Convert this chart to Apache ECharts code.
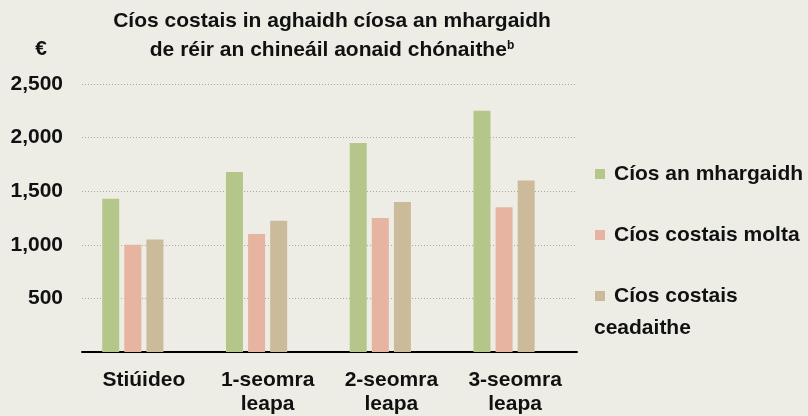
<!DOCTYPE html>
<html>
<head>
<meta charset="utf-8">
<script src="https://cdn.jsdelivr.net/npm/echarts@6/dist/echarts.min.js"></script>
<style>
  html, body { margin: 0; padding: 0; background: #edede5; }
  #chart { width: 808px; height: 416px; }
</style>
</head>
<body>
<div id="chart"></div>
<script>
const FONT = '"Liberation Sans", Arial, sans-serif';
const INK = "#111111";

const categories = ["Stiúideo", "1-seomra\nleapa", "2-seomra\nleapa", "3-seomra\nleapa"];
const seriesNames = ["Cíos an mhargaidh", "Cíos costais molta", "Cíos costais ceadaithe"];
const marketRent = [1430, 1680, 1950, 2250];
const proposedRent = [1000, 1100, 1250, 1350];
const approvedRent = [1050, 1225, 1400, 1600];
const colors = ["#b5c68a", "#e6b4a0", "#cbbb9a"];

const chart = echarts.init(document.getElementById("chart"), null, { renderer: "canvas" });

const bar = (name, data, color) => ({
  name,
  type: "bar",
  data,
  barWidth: 17,
  barGap: "30%",
  itemStyle: { color },
  emphasis: { disabled: true },
});

chart.setOption({
  backgroundColor: "#edede5",
  animation: false,
  textStyle: { fontFamily: FONT },
  title: {
    text: "Cíos costais in aghaidh cíosa an mhargaidh\nde réir an chineáil aonaid chónaithe{sup|b}",
    left: 327,
    top: 2,
    textAlign: "center",
    textStyle: {
      fontFamily: FONT,
      fontSize: 21,
      fontWeight: "bold",
      color: INK,
      lineHeight: 29,
      rich: {
        sup: { fontSize: 12, fontWeight: "bold", color: INK, padding: [0, 0, 10, 0] },
      },
    },
  },
  legend: {
    orient: "vertical",
    left: 595,
    top: 162,
    padding: 0,
    itemWidth: 10,
    itemHeight: 10,
    itemGap: 37,
    icon: "rect",
    data: seriesNames,
    formatter: (n) => (n === "Cíos costais ceadaithe" ? "Cíos costais" : n),
    textStyle: {
      fontFamily: FONT,
      fontSize: 21,
      fontWeight: "bold",
      color: INK,
      lineHeight: 24,
      padding: [0, 0, 0, 4],
    },
    selectedMode: false,
  },
  graphic: [
    {
      type: "text",
      left: 594,
      top: 318,
      style: { text: "ceadaithe", fontFamily: FONT, fontSize: 21, fontWeight: "bold", fill: INK },
    },
  ],
  grid: { left: 82, right: 231, top: 84, bottom: 62 },
  xAxis: {
    type: "category",
    data: categories,
    axisLine: { lineStyle: { color: "#000", width: 2 } },
    axisTick: { show: false },
    axisLabel: {
      color: INK,
      fontFamily: FONT,
      fontSize: 21,
      fontWeight: "bold",
      lineHeight: 24,
      margin: 16,
    },
  },
  yAxis: {
    type: "value",
    name: "€",
    nameLocation: "end",
    nameGap: 24,
    nameTextStyle: { color: INK, fontFamily: FONT, fontSize: 21, fontWeight: "bold", align: "center", padding: [0, 0, 0, -82] },
    min: 0,
    max: 2500,
    interval: 500,
    axisLine: { show: false },
    axisTick: { show: false },
    axisLabel: {
      color: INK,
      fontFamily: FONT,
      fontSize: 21,
      fontWeight: "bold",
      margin: 19,
      formatter: (v) => (v === 0 ? "" : v.toLocaleString("en-US")),
    },
    splitLine: { lineStyle: { color: "#a8a8a0", type: [1, 2], width: 1 } },
  },
  series: [
    bar(seriesNames[0], marketRent, colors[0]),
    bar(seriesNames[1], proposedRent, colors[1]),
    bar(seriesNames[2], approvedRent, colors[2]),
    // empty fourth slot: the original groups sit left of each category centre
    { name: "", type: "bar", data: [], barWidth: 17, barGap: "30%" },
  ],
});
</script>
</body>
</html>
